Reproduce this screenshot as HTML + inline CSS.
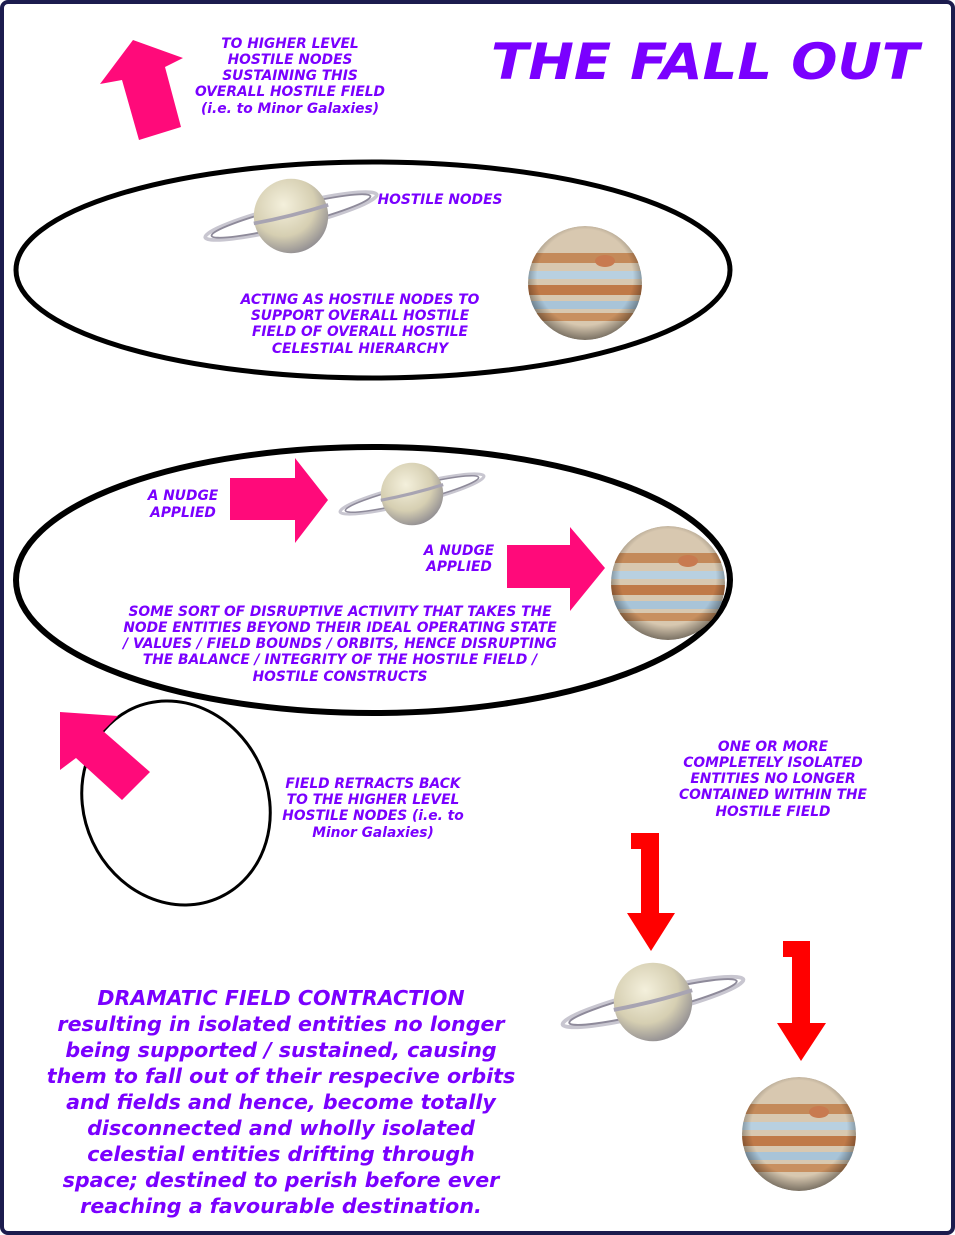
<!DOCTYPE html>
<html><head><meta charset="utf-8"><style>
html,body{margin:0;padding:0;background:#fff}
body{width:955px;height:1235px;overflow:hidden;position:relative}
svg{position:absolute;left:0;top:0}
text{font-family:"DejaVu Sans","Liberation Sans",sans-serif;font-weight:bold;font-style:italic;fill:#7a00ff}
</style></head><body>
<svg width="955" height="1235" viewBox="0 0 955 1235">
<defs>
<radialGradient id="sg" cx="40%" cy="35%" r="70%"><stop offset="0" stop-color="#f4f0dc"/><stop offset=".6" stop-color="#d6cfb2"/><stop offset="1" stop-color="#8d8a90"/></radialGradient>
<radialGradient id="js" cx="50%" cy="45%" r="60%"><stop offset=".7" stop-color="#000" stop-opacity="0"/><stop offset="1" stop-color="#000" stop-opacity=".6"/></radialGradient>
<g id="sat">
<ellipse cx="0" cy="0" rx="95" ry="12" transform="rotate(-14)" fill="none" stroke="#c8c6d0" stroke-width="4"/>
<ellipse cx="0" cy="0" rx="88" ry="10" transform="rotate(-14)" fill="none" stroke="#8e8a9a" stroke-width="2"/>
<circle r="40" fill="url(#sg)"/>
<path d="M-40 8 A95 12 -14 0 0 40 -12" fill="none" stroke="#a8a4b2" stroke-width="4"/>
</g>
<g id="jup">
<circle r="57" fill="#d8c8b0"/>
<rect x="-57" y="-30" width="114" height="10" fill="#c48a5a"/>
<rect x="-57" y="-12" width="114" height="8" fill="#b8d0e0"/>
<rect x="-57" y="2" width="114" height="10" fill="#c07a48"/>
<rect x="-57" y="18" width="114" height="8" fill="#a8c4d8"/>
<rect x="-57" y="30" width="114" height="8" fill="#c89060"/>
<ellipse cx="20" cy="-22" rx="10" ry="6" fill="#c87a50"/>
<circle r="57" fill="url(#js)"/>
</g>
<clipPath id="jc"><circle r="57"/></clipPath>
</defs>
<rect x="2" y="2" width="951" height="1231" rx="6" fill="none" stroke="#1c1c4e" stroke-width="4"/>
<text x="491" y="79" font-size="50" textLength="428" lengthAdjust="spacingAndGlyphs">THE FALL OUT</text>
<polygon points="133,40 183,58 165,67 181,127 139,140 122,80 100,84" fill="#ff0a7a"/>
<g font-size="13.8" text-anchor="middle">
<text x="290" y="48">TO HIGHER LEVEL</text><text x="290" y="64">HOSTILE NODES</text><text x="290" y="80">SUSTAINING THIS</text><text x="290" y="96">OVERALL HOSTILE FIELD</text><text x="290" y="113">(i.e. to Minor Galaxies)</text>
</g>
<ellipse cx="373" cy="270" rx="357" ry="108" fill="none" stroke="#000" stroke-width="5"/>
<use href="#sat" transform="translate(291,216) scale(.93)"/>
<g transform="translate(585,283)" clip-path="url(#jc)"><use href="#jup"/></g>
<g font-size="13.8" text-anchor="middle">
<text x="440" y="204">HOSTILE NODES</text>
<text x="360" y="304">ACTING AS HOSTILE NODES TO</text><text x="360" y="320">SUPPORT OVERALL HOSTILE</text><text x="360" y="336">FIELD OF OVERALL HOSTILE</text><text x="360" y="353">CELESTIAL HIERARCHY</text>
</g>
<ellipse cx="373" cy="580" rx="357" ry="133" fill="none" stroke="#000" stroke-width="6"/>
<polygon points="230,478 295,478 295,458 328,500 295,543 295,520 230,520" fill="#ff0a7a"/>
<polygon points="507,545 570,545 570,527 605,568 570,611 570,588 507,588" fill="#ff0a7a"/>
<use href="#sat" transform="translate(412,494) scale(.78)"/>
<g transform="translate(668,583)" clip-path="url(#jc)"><use href="#jup"/></g>
<g font-size="13.8" text-anchor="middle">
<text x="183" y="500">A NUDGE</text><text x="183" y="517">APPLIED</text>
<text x="459" y="555">A NUDGE</text><text x="459" y="571">APPLIED</text>
<text x="340" y="616">SOME SORT OF DISRUPTIVE ACTIVITY THAT TAKES THE</text>
<text x="340" y="632">NODE ENTITIES BEYOND THEIR IDEAL OPERATING STATE</text>
<text x="340" y="648">/ VALUES / FIELD BOUNDS / ORBITS, HENCE DISRUPTING</text>
<text x="340" y="664">THE BALANCE / INTEGRITY OF THE HOSTILE FIELD /</text>
<text x="340" y="681">HOSTILE CONSTRUCTS</text>
</g>
<ellipse cx="176" cy="803" rx="92" ry="104" transform="rotate(-25 176 803)" fill="none" stroke="#000" stroke-width="3"/>
<polygon points="60,712 118,716 103,731 150,772 122,800 76,758 60,770" fill="#ff0a7a"/>
<g font-size="13.8" text-anchor="middle">
<text x="373" y="788">FIELD RETRACTS BACK</text><text x="373" y="804">TO THE HIGHER LEVEL</text><text x="373" y="820">HOSTILE NODES (i.e. to</text><text x="373" y="837">Minor Galaxies)</text>
<text x="773" y="751">ONE OR MORE</text><text x="773" y="767">COMPLETELY ISOLATED</text><text x="773" y="783">ENTITIES NO LONGER</text><text x="773" y="799">CONTAINED WITHIN THE</text><text x="773" y="816">HOSTILE FIELD</text>
</g>
<polygon points="631,833 659,833 659,913 675,913 651,951 627,913 641,913 641,849 631,849" fill="#ff0000"/>
<polygon points="783,941 810,941 810,1023 826,1023 801,1061 777,1023 792,1023 792,957 783,957" fill="#ff0000"/>
<use href="#sat" transform="translate(653,1002) scale(.98)"/>
<g transform="translate(799,1134)" clip-path="url(#jc)"><use href="#jup"/></g>
<g font-size="20.6" text-anchor="middle">
<text x="281" y="1005">DRAMATIC FIELD CONTRACTION</text>
<text x="281" y="1031">resulting in isolated entities no longer</text>
<text x="281" y="1057">being supported / sustained, causing</text>
<text x="281" y="1083">them to fall out of their respecive orbits</text>
<text x="281" y="1109">and fields and hence, become totally</text>
<text x="281" y="1135">disconnected and wholly isolated</text>
<text x="281" y="1161">celestial entities drifting through</text>
<text x="281" y="1187">space; destined to perish before ever</text>
<text x="281" y="1213">reaching a favourable destination.</text>
</g>
</svg>
</body></html>
